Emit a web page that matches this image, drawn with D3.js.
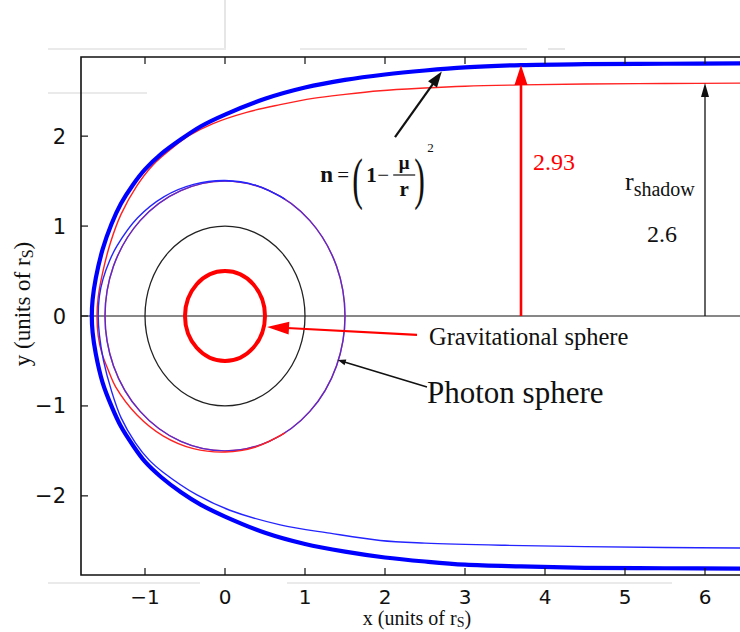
<!DOCTYPE html>
<html><head><meta charset="utf-8">
<script src="https://cdn.jsdelivr.net/npm/d3@7"></script>
<style>body{margin:0;background:#fff}svg{display:block}</style>
</head><body>
<svg id="chart" width="740" height="632"></svg>
<script>
// ---------- data (units of r_S) ----------
const xTicks = [-1, 0, 1, 2, 3, 4, 5, 6];
const yTicks = [-2, -1, 0, 1, 2];
const circleRadii = [0.5, 1.0, 1.5];          // gravitational sphere, r_S, photon sphere
// thick blue ray, medium n = (1 - mu/r)^2
const outerRay = [[6.5,2.81],[5.5,2.805],[4.5,2.8],[3.7,2.79],[3.0,2.765],[2.5,2.73],[2.0,2.685],[1.5,2.625],[1.0,2.54],[0.5,2.415],[0.0,2.24],[-0.3,2.11],[-0.55,1.965],[-0.8,1.8],[-1.0,1.63],[-1.15,1.46],[-1.3,1.25],[-1.42,1.02],[-1.53,0.74],[-1.615,0.42],[-1.655,0.18],[-1.665,0],
  [-1.655,-0.18],[-1.615,-0.42],[-1.53,-0.74],[-1.42,-1.0],[-1.3,-1.23],[-1.15,-1.44],[-1.0,-1.62],[-0.8,-1.79],[-0.55,-1.96],[-0.3,-2.1],[0.0,-2.23],[0.5,-2.41],[1.0,-2.535],[1.5,-2.62],[2.0,-2.685],[2.5,-2.73],[3.0,-2.765],[3.7,-2.785],[4.5,-2.8],[5.5,-2.805],[6.5,-2.81]];
// thin red ray entering from the top, winding onto the photon sphere
const redRay = [[6.5,2.59],[5.5,2.585],[4.5,2.58],[3.7,2.57],[3.0,2.555],[2.5,2.535],[1.94,2.505],[1.5,2.465],[1.1,2.42],[0.69,2.35],[0.27,2.265],[-0.15,2.14],[-0.44,2.01],[-0.65,1.875],[-0.9,1.68],[-1.1,1.45],[-1.3,1.13],[-1.43,0.82],[-1.53,0.48],[-1.585,0.21],[-1.6,0],
  [-1.585,-0.22],[-1.54,-0.41],[-1.46,-0.6],[-1.365,-0.79],[-1.1,-1.1],[-0.77,-1.335],[-0.395,-1.475],[0,-1.513],[0.39,-1.455],[0.75,-1.3]];
// thin blue ray entering from the bottom, winding onto the photon sphere
const blueRay = [[6.5,-2.58],[5.5,-2.575],[4.5,-2.565],[3.5,-2.55],[2.5,-2.525],[1.94,-2.496],[1.31,-2.415],[0.69,-2.322],[0.06,-2.16],[-0.35,-1.99],[-0.77,-1.74],[-0.95,-1.6],[-1.12,-1.41],[-1.3,-1.13],[-1.42,-0.83],[-1.52,-0.49],[-1.57,-0.21],[-1.585,0],
  [-1.57,0.22],[-1.525,0.41],[-1.44,0.62],[-1.35,0.78],[-1.092,1.092],[-0.765,1.325],[-0.392,1.463],[0,1.507],[0.389,1.452],[0.75,1.299]];
const arrowHeights = [2.79, 2.59];            // red arrow (to thick ray), black arrow (to shadow ray)
const arrowX = [3.7, 6.0];
const valueLabels = ["2.93", "2.6"];

// ---------- layout ----------
const svg = d3.select("#chart");
const x = d3.scaleLinear().domain([-1.8, 6.5]).range([81, 745]);
const y = d3.scaleLinear().domain([-2.88, 2.88]).range([575, 57]);
const SERIF = "'Liberation Serif','Times New Roman',serif";
const SANS = "'DejaVu Sans',sans-serif";

// faint scan artefacts of the original figure
const art = svg.append("g").attr("stroke", "#d6d6d6").attr("stroke-width", 1.2);
[[48,49,226,49],[300,49,527,49],[548,49,565,49],[225,0,225,48],[48,583,200,583],[287,583,672,583],[48,93,147,93]]
  .forEach(d => art.append("line").attr("x1", d[0]).attr("y1", d[1]).attr("x2", d[2]).attr("y2", d[3]));

const clip = svg.append("clipPath").attr("id", "plotclip").append("rect")
  .attr("x", x(-1.8)).attr("y", y(2.88)).attr("width", 740 - x(-1.8)).attr("height", y(-2.88) - y(2.88));
const plot = svg.append("g").attr("clip-path", "url(#plotclip)");

// zero line
plot.append("line").attr("x1", x(-1.8)).attr("x2", x(6.5)).attr("y1", y(0)).attr("y2", y(0))
  .attr("stroke", "#111").attr("stroke-width", 1.2);

// circles (drawn through the scales)
const cx = x(0), cy = y(0);
const ell = (r) => ({rx: x(r) - x(0), ry: y(0) - y(r)});
plot.append("ellipse").attr("cx", cx).attr("cy", cy).attr("rx", ell(circleRadii[2]).rx).attr("ry", ell(circleRadii[2]).ry)
  .attr("fill", "none").attr("stroke", "#ff2a2a").attr("stroke-width", 1.4);
plot.append("ellipse").attr("cx", cx).attr("cy", cy).attr("rx", ell(circleRadii[2]).rx).attr("ry", ell(circleRadii[2]).ry)
  .attr("fill", "none").attr("stroke", "#2a2aff").attr("stroke-width", 1.4).attr("stroke-opacity", 0.8);
plot.append("ellipse").attr("cx", cx).attr("cy", cy).attr("rx", ell(circleRadii[1]).rx).attr("ry", ell(circleRadii[1]).ry)
  .attr("fill", "none").attr("stroke", "#222").attr("stroke-width", 1.3);
plot.append("ellipse").attr("cx", cx).attr("cy", cy).attr("rx", ell(circleRadii[0]).rx).attr("ry", ell(circleRadii[0]).ry)
  .attr("fill", "none").attr("stroke", "#ff0000").attr("stroke-width", 4);

// rays
const line = d3.line().x(d => x(d[0])).y(d => y(d[1])).curve(d3.curveCatmullRom.alpha(0.5));
plot.append("path").attr("d", line(redRay)).attr("fill", "none").attr("stroke", "#ff2020").attr("stroke-width", 1.4);
plot.append("path").attr("d", line(blueRay)).attr("fill", "none").attr("stroke", "#2424ff").attr("stroke-width", 1.4);
plot.append("path").attr("d", line(outerRay)).attr("fill", "none").attr("stroke", "#0000ff").attr("stroke-width", 4.2);

// arrows
function arrow(g, x1, y1, x2, y2, color, w, hl, hw) {
  const dx = x2 - x1, dy = y2 - y1, L = Math.hypot(dx, dy), ux = dx / L, uy = dy / L;
  const bx = x2 - ux * hl, by = y2 - uy * hl;
  g.append("line").attr("x1", x1).attr("y1", y1).attr("x2", bx + ux * 2).attr("y2", by + uy * 2)
    .attr("stroke", color).attr("stroke-width", w);
  g.append("path").attr("d", `M${x2},${y2}L${bx - uy * hw / 2},${by + ux * hw / 2}L${bx + uy * hw / 2},${by - ux * hw / 2}Z`)
    .attr("fill", color);
}
const ann = svg.append("g");
arrow(ann, x(arrowX[0]), y(0), x(arrowX[0]), y(arrowHeights[0]), "#ff0000", 2.6, 20, 13);
arrow(ann, x(arrowX[1]), y(0), x(arrowX[1]), y(arrowHeights[1]), "#111", 1.3, 14, 8);
arrow(ann, x(2.125), y(1.99), x(2.71), y(2.72), "#111", 2.2, 16, 11);
arrow(ann, x(2.4), y(-0.21), x(0.525), y(-0.122), "#ff0000", 2.2, 22, 13);
arrow(ann, x(2.525), y(-0.79), x(1.41), y(-0.49), "#111", 1.5, 8, 6);

// value labels
ann.append("text").attr("x", x(3.85)).attr("y", y(1.62)).attr("font-family", SERIF).attr("font-size", 24)
  .attr("fill", "#ff0000").text(valueLabels[0]);
const rs = ann.append("text").attr("x", x(5.0)).attr("y", y(1.4)).attr("font-family", SERIF).attr("font-size", 26).attr("fill", "#111");
rs.append("tspan").text("r");
rs.append("tspan").attr("font-size", 20).attr("dy", 6).text("shadow");
ann.append("text").attr("x", x(5.275)).attr("y", y(0.82)).attr("font-family", SERIF).attr("font-size", 24)
  .attr("fill", "#111").text(valueLabels[1]);
ann.append("text").attr("x", x(2.55)).attr("y", y(-0.32)).attr("font-family", SERIF).attr("font-size", 24.5)
  .attr("fill", "#111").text("Gravitational sphere");
ann.append("text").attr("x", x(2.525)).attr("y", y(-0.97)).attr("font-family", SERIF).attr("font-size", 31)
  .attr("fill", "#111").text("Photon sphere");

// formula n = (1 - mu/r)^2
const fx = x(1.19), fy = y(1.49);
const fg = ann.append("g").attr("font-family", SERIF).attr("fill", "#111");
fg.append("text").attr("x", fx).attr("y", fy).attr("font-size", 23).attr("font-weight", "bold").text("n");
fg.append("text").attr("x", fx + 17).attr("y", fy).attr("font-size", 21).text("=");
fg.append("text").attr("transform", `translate(${fx + 32},${fy + 16}) scale(0.55,1)`).attr("font-size", 58).attr("font-weight", 300).text("(");
fg.append("text").attr("x", fx + 46).attr("y", fy).attr("font-size", 21).attr("font-weight", "bold").text("1");
fg.append("text").attr("x", fx + 57).attr("y", fy).attr("font-size", 21).text("\u2212");
fg.append("text").attr("x", fx + 84).attr("y", fy - 13).attr("font-size", 19).attr("font-weight", "bold").attr("text-anchor", "middle").text("\u03bc");
fg.append("line").attr("x1", fx + 73).attr("x2", fx + 95).attr("y1", fy - 7).attr("y2", fy - 7).attr("stroke", "#111").attr("stroke-width", 1.2);
fg.append("text").attr("x", fx + 84).attr("y", fy + 14).attr("font-size", 21).attr("font-weight", "bold").attr("text-anchor", "middle").text("r");
fg.append("text").attr("transform", `translate(${fx + 94},${fy + 16}) scale(0.55,1)`).attr("font-size", 58).attr("font-weight", 300).text(")");
fg.append("text").attr("x", fx + 107).attr("y", fy - 30).attr("font-size", 13).text("2");

// frame and ticks
const fr = svg.append("g").attr("stroke", "#111").attr("stroke-width", 1.6).attr("fill", "none");
fr.append("path").attr("d", `M740,${y(2.88)}H${x(-1.8)}V${y(-2.88)}H740`);
xTicks.forEach(t => {
  fr.append("line").attr("x1", x(t)).attr("x2", x(t)).attr("y1", y(-2.88)).attr("y2", y(-2.88) - 7).attr("stroke-width", 1.2);
  fr.append("line").attr("x1", x(t)).attr("x2", x(t)).attr("y1", y(2.88)).attr("y2", y(2.88) + 7).attr("stroke-width", 1.2);
});
yTicks.forEach(t => {
  fr.append("line").attr("x1", x(-1.8)).attr("x2", x(-1.8) + 7).attr("y1", y(t)).attr("y2", y(t)).attr("stroke-width", 1.2);
});
const fmt = t => (t < 0 ? "\u2212" + Math.abs(t) : String(t));
svg.append("g").selectAll("text").data(xTicks).join("text")
  .attr("x", d => x(d)).attr("y", 604).attr("text-anchor", "middle")
  .attr("font-family", SANS).attr("font-size", 20).attr("fill", "#111").text(fmt);
svg.append("g").selectAll("text").data(yTicks).join("text")
  .attr("x", 66).attr("y", d => y(d)).attr("dy", "0.36em").attr("text-anchor", "end")
  .attr("font-family", SANS).attr("font-size", 21).attr("fill", "#111").text(fmt);

// axis titles
const xt = svg.append("text").attr("x", 417).attr("y", 625).attr("text-anchor", "middle")
  .attr("font-family", SERIF).attr("font-size", 20).attr("fill", "#111");
xt.append("tspan").text("x (units of r");
xt.append("tspan").attr("font-size", 14).attr("dy", 2).text("S");
xt.append("tspan").attr("dy", -2).text(")");
const yt = svg.append("text").attr("transform", "translate(30,304) rotate(-90)").attr("text-anchor", "middle")
  .attr("font-family", SERIF).attr("font-size", 23).attr("fill", "#111");
yt.append("tspan").text("y (units of r");
yt.append("tspan").attr("font-size", 16).attr("dy", 3).text("S");
yt.append("tspan").attr("dy", -3).text(")");
</script>
</body></html>
